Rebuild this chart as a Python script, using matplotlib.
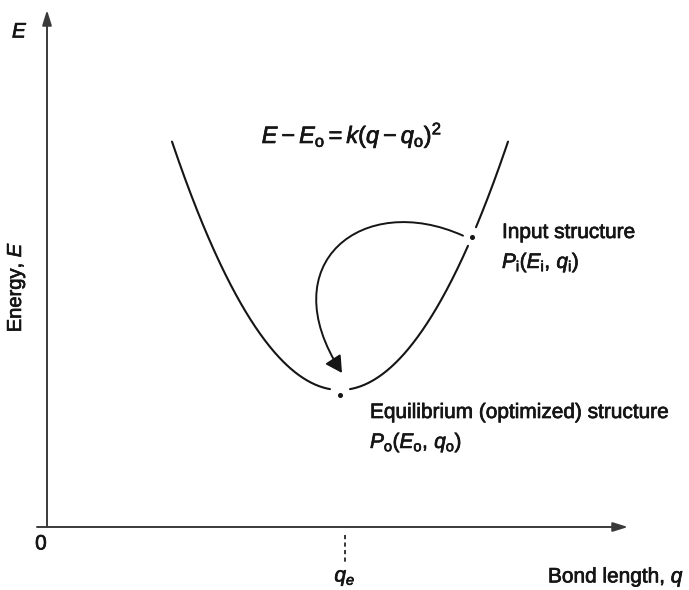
import numpy as np
import matplotlib
matplotlib.use('Agg')
import matplotlib.pyplot as plt
from matplotlib.patches import FancyArrowPatch
from matplotlib.path import Path
import matplotlib.patheffects as pe

plt.rcParams['font.family'] = ['Liberation Sans', 'DejaVu Sans']
plt.rcParams['mathtext.fontset'] = 'custom'
plt.rcParams['mathtext.rm'] = 'Liberation Sans'
plt.rcParams['mathtext.it'] = 'Liberation Sans:italic'
plt.rcParams['mathtext.bf'] = 'Liberation Sans:bold'

# potential well E - Eo = k (q - qo)^2  (arbitrary units)
Q0 = 293.0      # equilibrium bond length qe
E0 = 137.0      # equilibrium energy Eo
K = 0.0088      # force constant
Q_RANGE = [125.0, 461.0]
QI = 425.0      # input structure bond length

# axis extents
X_MAX = 581
Y_MAX = 517

# text
EQ_LABEL = r'$E - E_\mathrm{o} = k(q - q_\mathrm{o})^2$'
INPUT_LABEL = 'Input structure'
INPUT_POINT = r'$P_\mathrm{i}(E_\mathrm{i},\, q_\mathrm{i})$'
EQ_STRUCT = 'Equilibrium (optimized) structure'
EQ_POINT = r'$P_\mathrm{o}(E_\mathrm{o},\, q_\mathrm{o})$'
XLABEL = r'Bond length, $q$'
YLABEL = r'Energy, $E$'


def energy(q):
    return E0 + K * (q - Q0) ** 2


EI = energy(QI)
PO = (Q0, E0 - 5)   # dot sits just under the curve in the original

fig = plt.figure(figsize=(6.89, 5.9), dpi=100)
ax = fig.add_axes([0, 0, 1, 1])
ax.set_xlim(-47, 642)
ax.set_ylim(-63, 527)
ax.axis('off')

ink = '#151515'
axis_c = '#3a3a3a'

# axes with arrow heads
arrow_kw = dict(arrowstyle='-|>,head_length=0.9,head_width=0.28',
                color=axis_c, lw=1.4, shrinkA=0, shrinkB=0)
ax.annotate('', xy=(0, Y_MAX), xytext=(0, 0), arrowprops=arrow_kw)
ax.annotate('', xy=(X_MAX, 0), xytext=(-10, 0), arrowprops=arrow_kw)

# parabola, broken at the two marked points
gap_min = 10
gap_i = 4
segs = [(Q_RANGE[0], Q0 - gap_min), (Q0 + gap_min, QI - gap_i), (QI + gap_i, Q_RANGE[1])]
for a, b in segs:
    q = np.linspace(a, b, 200)
    ax.plot(q, energy(q), color=ink, lw=1.5, solid_capstyle='round')

# marked points
ax.plot([PO[0], QI], [PO[1], EI], 'o', color=ink, ms=2.6)

# optimisation arrow: loops out to the left from Pi and drops onto Po
start = (QI - 9, EI + 1)
end = (PO[0] + 2, PO[1] + 22)
verts = [start,
         (start[0] - 100, start[1] + 45),
         (end[0] - 71.5, end[1] + 110),
         end]
codes = [Path.MOVETO, Path.CURVE4, Path.CURVE4, Path.CURVE4]
arr = FancyArrowPatch(path=Path(verts, codes),
                      arrowstyle='-|>,head_length=10,head_width=5.5',
                      color=ink, lw=1.4, shrinkA=0, shrinkB=0)
ax.add_patch(arr)

# qe dashed tick
ax.plot([Q0 + 5, Q0 + 5], [-8, -38], color=ink, lw=1.2, ls=(0, (2.5, 2)))

bold = [pe.withStroke(linewidth=0.5, foreground=ink)]
fs = 15
txt = dict(color=ink, path_effects=bold)
ax.text(-27, 495, r'$E$', fontsize=fs, ha='center', va='center', **txt)
ax.text(-31, 240, YLABEL, fontsize=14.5, rotation=90, ha='center', va='center', **txt)
ax.text(-6, -17, '0', fontsize=fs, ha='center', va='center', **txt)
ax.text(Q0 + 5, -51, r'$q_e$', fontsize=fs, ha='center', va='center', **txt)
ax.text(501, -50, XLABEL, fontsize=fs, ha='left', va='center', **txt)

ax.text(305, 392, EQ_LABEL, fontsize=17, ha='center', va='center', **txt)
ax.text(455, 289, INPUT_LABEL, fontsize=fs, ha='left', va='baseline', **txt)
ax.text(455, 259, INPUT_POINT, fontsize=fs, ha='left', va='baseline', **txt)
ax.text(323, 109, EQ_STRUCT, fontsize=fs, ha='left', va='baseline', **txt)
ax.text(323, 79, EQ_POINT, fontsize=fs, ha='left', va='baseline', **txt)

plt.savefig('out.png', dpi=100)
